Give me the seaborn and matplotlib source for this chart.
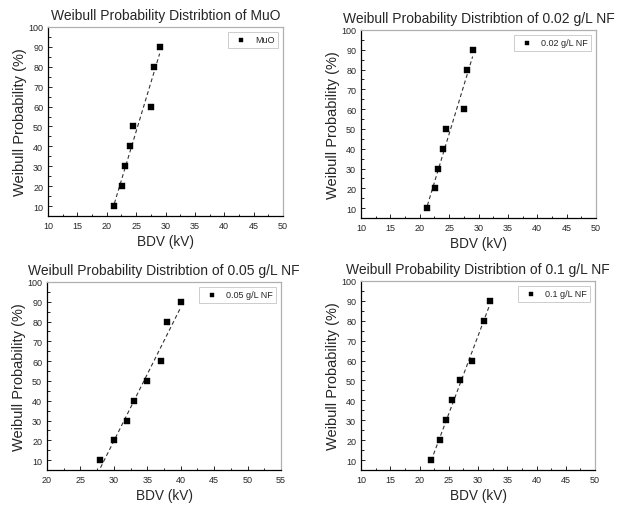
#import necessary libraries
import numpy as np
import pandas as pd
import seaborn as sns
import matplotlib.pyplot as plt

# Weibull probability levels (%) shared by all samples
prob = [10, 20, 30, 40, 50, 60, 80, 90]

# breakdown voltages (kV)
bdv_muo = [21.3, 22.6, 23.1, 24.0, 24.5, 27.5, 28.0, 29.0]
bdv_002 = [21.3, 22.6, 23.1, 24.0, 24.5, 27.5, 28.0, 29.0]
bdv_005 = [28.0, 30.0, 32.0, 33.0, 35.0, 37.0, 38.0, 40.0]
bdv_01 = [22.0, 23.5, 24.6, 25.5, 27.0, 29.0, 31.0, 32.0]

names = ["MuO", "0.02 g/L NF", "0.05 g/L NF", "0.1 g/L NF"]
series = [bdv_muo, bdv_002, bdv_005, bdv_01]
xlims = [(10, 50), (10, 50), (20, 55), (10, 50)]

sns.set_style("ticks")
plt.rcParams['font.family'] = ['Liberation Sans', 'DejaVu Sans']

fig = plt.figure(figsize=(6.3, 5.06), dpi=100)

# axes boxes in pixels: left, top, width, height
boxes = [(48, 28, 235, 189), (361, 31, 235, 188),
         (47, 283, 234, 188), (361, 282, 234, 189)]

for name, bdv, xl, (l, t, w, h) in zip(names, series, xlims, boxes):
    ax = fig.add_axes([l / 630, 1 - (t + h) / 506, w / 630, h / 506])
    df = pd.DataFrame({"BDV": bdv, "Prob": prob})

    # linear fit, dashed
    sns.regplot(data=df, x="BDV", y="Prob", ax=ax, scatter=False, ci=None,
                truncate=True, color="#333333",
                line_kws={"linestyle": (0, (3.5, 2.5)), "linewidth": 0.8})
    sns.scatterplot(data=df, x="BDV", y="Prob", ax=ax, marker="s", s=13,
                    color="black", edgecolor="black", label=name, zorder=3)

    ax.set_xlim(*xl)
    ax.set_ylim(5, 100)
    ax.set_xticks(np.arange(xl[0], xl[1] + 1, 5))
    ax.set_yticks(np.arange(10, 101, 10))
    ax.set_xticks(np.arange(xl[0] + 2.5, xl[1], 5), minor=True)
    ax.set_yticks(np.arange(15, 100, 10), minor=True)
    ax.tick_params(which="both", direction="in", labelsize=6.5, width=0.7,
                   top=False, right=False)
    ax.tick_params(which="major", length=3)
    ax.tick_params(which="minor", length=1.8)

    for s in ["left", "bottom"]:
        ax.spines[s].set_color("black")
        ax.spines[s].set_linewidth(0.9)
    for s in ["top", "right"]:
        ax.spines[s].set_color("#b0b0b0")
        ax.spines[s].set_linewidth(0.9)

    ax.set_title("Weibull Probability Distribtion of " + name, fontsize=10, pad=6)
    ax.set_xlabel("BDV (kV)", fontsize=9.8, labelpad=3)
    ax.set_ylabel("Weibull Probability (%)", fontsize=10.5, labelpad=0.5)

    leg = ax.legend(loc="upper right", fontsize=6.5, fancybox=False,
                    handletextpad=0.6, borderpad=0.4, markerscale=0.9)
    leg.get_frame().set_edgecolor("#c0c0c0")
    leg.get_frame().set_linewidth(0.7)

plt.savefig("out.png", dpi=100)
